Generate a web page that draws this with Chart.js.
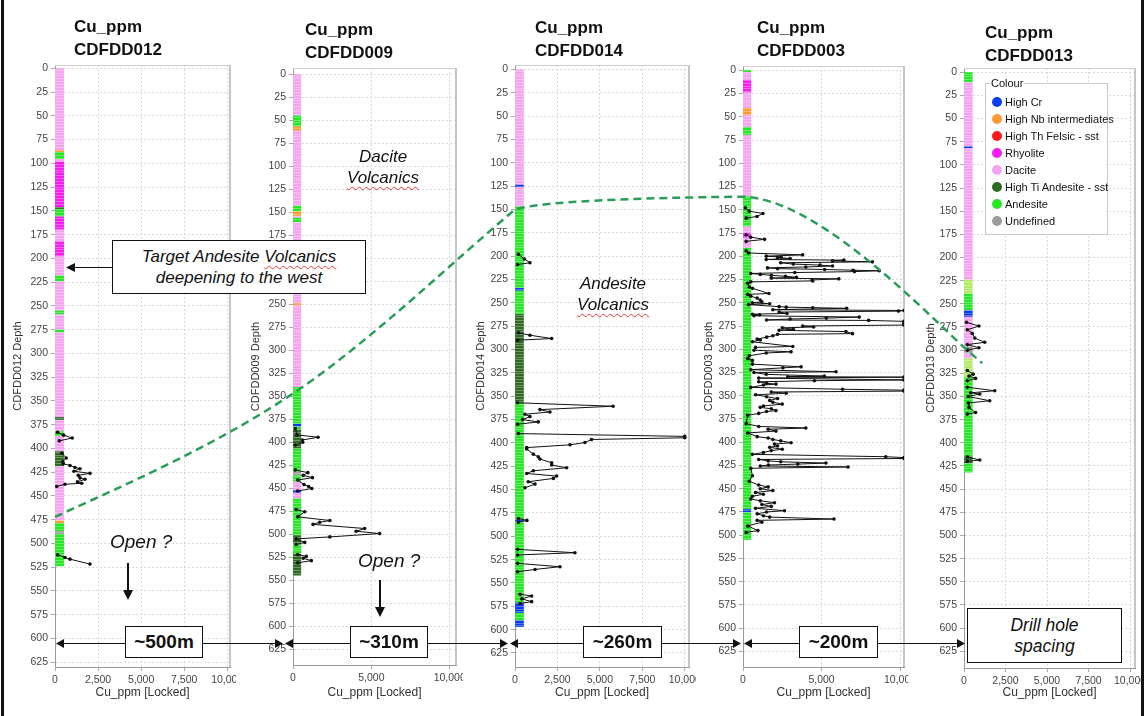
<!DOCTYPE html>
<html>
<head>
<meta charset="utf-8">
<script src="https://cdn.jsdelivr.net/npm/chart.js@4.4.1/dist/chart.umd.min.js"></script>
<style>
  body { margin: 0; background: #fff; }
  #page { position: relative; width: 1144px; height: 716px; overflow: hidden; background: #fff;
          font-family: 'Liberation Sans', Arial, sans-serif; color: #111; }
  #page canvas { position: absolute; top: 0; }
  #overlay { left: 0; z-index: 2; pointer-events: none; }
  .title { position: absolute; font-weight: bold; font-size: 17px; line-height: 23px; z-index: 3; }
  .note { position: absolute; font-style: italic; font-size: 17px; line-height: 21px; text-align: center; z-index: 3; }
  .squig { text-decoration: underline wavy #e03a3a; text-decoration-thickness: 1px; text-underline-offset: 3px; }
  .box { position: absolute; box-sizing: border-box; background: #fff; border: 1.5px solid #111; z-index: 3;
         display: flex; flex-direction: column; align-items: center; justify-content: center; }
  .dist { font-weight: bold; font-size: 19px; }
  .ital { font-style: italic; font-size: 17px; line-height: 21px; text-align: center; }
  .open { position: absolute; font-style: italic; font-size: 19px; z-index: 3; }
  #legend { position: absolute; left: 985px; top: 83px; width: 123px; height: 152px; box-sizing: border-box;
            border: 1px solid #c8c8c8; background: #fff; padding-top: 9px; z-index: 3; font-size: 11px; }
  #legend .cap { position: absolute; left: 4px; top: -7px; background: #fff; padding: 0 1px; line-height: 13px; }
  .lrow { height: 17.1px; display: flex; align-items: center; padding-left: 6px; white-space: nowrap; }
  .dot { width: 10px; height: 10px; border-radius: 50%; margin-right: 3px; flex: none; }
  .edge { position: absolute; top: 0; width: 3px; height: 716px; background: #111; z-index: 4; }
</style>
</head>
<body>
<div id="page">
  <div class="edge" style="left:1px"></div>
  <div class="edge" style="left:1141px"></div>
  <canvas id="overlay" width="1144" height="716"></canvas>

  <div class="note" style="left:323px; top:146px; width:120px;">Dacite<br><span class="squig">Volcanics</span></div>
  <div class="note" style="left:553px; top:273px; width:120px;">Andesite<br><span class="squig">Volcanics</span></div>

  <div class="box" style="left:112px; top:240px; width:254px; height:54px;">
    <div class="ital">Target Andesite <span class="squig">Volcanics</span><br>deepening to the west</div>
  </div>

  <div class="open" style="left:110px; top:531px;">Open ?</div>
  <div class="open" style="left:358px; top:550px;">Open ?</div>

  <div class="box dist" style="left:125px; top:626px; width:78px; height:32px;">~500m</div>
  <div class="box dist" style="left:350px; top:626px; width:78px; height:32px;">~310m</div>
  <div class="box dist" style="left:583px; top:626px; width:79px; height:32px;">~260m</div>
  <div class="box dist" style="left:799px; top:626px; width:79px; height:32px;">~200m</div>
  <div class="box" style="left:967px; top:608px; width:155px; height:55px;">
    <div class="ital" style="font-size:17.5px;">Drill hole<br>spacing</div>
  </div>

  <div id="legend"><span class="cap">Colour</span></div>
</div>

<script>
// ---- holes ----
const holeNames = ['CDFDD012', 'CDFDD009', 'CDFDD014', 'CDFDD003', 'CDFDD013'];
const cuTicksWide = [0, 2500, 5000, 7500, 10000];
const cuTicksNarrow = [0, 5000, 10000];
const cuTicks = [cuTicksWide, cuTicksNarrow, cuTicksWide, cuTicksNarrow, cuTicksWide];
const depthTicks = [0, 25, 50, 75, 100, 125, 150, 175, 200, 225, 250, 275, 300, 325, 350, 375, 400,
                    425, 450, 475, 500, 525, 550, 575, 600, 625];
const cuMax = [10160, 10400, 10250, 10250, 10300];
const depthMin = [-3.5, -6.7, -4.8, -4.6, -4.5];
const depthMax = [630, 642, 640, 641.7, 643];
const stripCu = 520;

// ---- lithology legend ----
const lithKeys = ['cr', 'nb', 'th', 'rhy', 'dac', 'hti', 'and', 'und'];
const lithNames = ['High Cr', 'High Nb intermediates', 'High Th Felsic - sst', 'Rhyolite', 'Dacite',
                   'High Ti Andesite - sst', 'Andesite', 'Undefined'];
const lithColors = ['#0a3cf0', '#ff9a30', '#ff1a1a', '#f41ef0', '#f4a4ee', '#2e6a22', '#26e626', '#9a9a9a'];
const paleAndesite = '#b4ea68';

// lithology intervals [from, to, key]
const lith012 = [[0,86,'dac'],[86,88,'nb'],[88,95.5,'and'],[95.5,98,'dac'],[98,146,'rhy'],[146,148,'hti'],
  [148,156,'and'],[156,170,'rhy'],[170,182,'dac'],[182,198,'rhy'],[198,218,'dac'],[218,224,'and'],[224,255,'dac'],
  [255,259,'and'],[259,275,'dac'],[275,278,'and'],[278,367,'dac'],[367,370,'hti'],[370,382,'dac'],[382,387,'and'],
  [387,403,'dac'],[403,418.5,'hti'],[418.5,476,'dac'],[476,478.5,'nb'],[478.5,487,'and'],[487,490,'und'],[490,524,'and']];
const lith009 = [[0,45,'dac'],[45,57,'and'],[57,61.5,'nb'],[61.5,143,'dac'],[143,149,'and'],[149,154,'nb'],
  [154,156,'dac'],[156,161,'and'],[161,249,'dac'],[249,251,'nb'],[251,340,'dac'],[340,380,'and'],[380,383,'cr'],
  [383,386,'and'],[386,407,'hti'],[407,432,'and'],[432,436,'und'],[436,443,'and'],[443,452,'dac'],[452,455,'cr'],
  [455,461,'dac'],[461,501,'and'],[501,510,'hti'],[510,521,'and'],[521,545,'hti']];
const lith014 = [[0,123.5,'dac'],[123.5,126,'cr'],[126,147,'dac'],[147,234,'and'],[234,237,'cr'],[237,262,'and'],
  [262,357,'hti'],[357,482,'and'],[482,484,'cr'],[484,571,'and'],[571,582,'cr'],[582,590,'and'],[590,597,'cr']];
const lith003 = [[0,2,'and'],[2,10.5,'dac'],[10.5,24,'rhy'],[24,40.5,'dac'],[40.5,48,'nb'],[48,61,'dac'],
  [61,69.5,'and'],[69.5,135.6,'dac'],[135.6,168,'and'],[168,175,'dac'],[175,180,'rhy'],[180,191,'dac'],
  [191,472,'and'],[472,475.5,'cr'],[475.5,505,'and']];
const lith013 = [[0,10.8,'and'],[10.8,80,'dac'],[80,82,'cr'],[82,224,'dac'],[224,239,'pale'],[239,257,'and'],
  [257,264,'cr'],[264,296,'dac'],[296,303,'und'],[303,309,'dac'],[309,329,'pale'],[329,415,'and'],[415,422,'hti'],
  [422,432,'and']];

// Cu_ppm samples [depth, cu]; null = gap in the trace
const cu012 = [[383,150],[386,500],[389,1000],[392,250],null,
  [405,400],[410,650],[414,450],[416,480],[418,870],[420,1160],[421.3,1450],[424,1100],[426.2,2030],[428.3,1350],
  [431,1450],[432.5,1740],[435,1300],[436.7,1550],[437.7,580],[440,100],null,
  [512,150],[514.8,580],[516.5,870],[521.7,2030]];
const cu009 = [[385,150],[392,250],[394.5,1600],[397.5,600],[400,620],[403,150],null,
  [430,150],[433,950],[436,650],[438.4,1240],[441,300],[446,700],[448,1000],[450.2,1200],[453,300],null,
  [473,200],[475.5,750],[481,300],[485,2350],[487,1700],[489.2,1280],[493.7,4570],[496.6,4030],[499.2,5530],
  [502.8,2350],[505,200],[508.8,750],[511,200],null,
  [522,300],[524,850],[526,650],[528.6,1170],[531,300]];
const cu014 = [[198,200],[203,550],[207,880],[209,150],null,
  [282,200],[284.6,880],[288.2,2160],[290,150],null,
  [357,150],[360.7,5780],[364.3,1470],[366.8,2060],[369.3,590],[371.8,880],[375,450],[377.5,1370],[380,150],null,
  [390,200],[393,10000],[394.5,10000],[396.3,4510],[399.6,4120],[402,3240],[405,690],[406.5,690],[412,1080],
  [414.9,1370],[417.3,1470],[421.2,2160],[423.7,2160],[426.6,3040],[429.8,1080],[432.7,690],[435.5,2450],
  [438,2260],[441.6,780],[444.1,1180],[448,590],null,
  [481,200],[483,700],[485,200],null,
  [514,150],[517.6,3530],[520,150],null,
  [529,150],[532.6,2650],[535.5,1180],[538,150],null,
  [562,300],[564,980],[567,400],[570,980],[572,300]];
const cu003 = [[148,150],[151.5,400],[154,1270],[157.2,890],[159,200],null,
  [177,200],[179.5,500],[181.8,1370],[184,200],null,
  [194,200],[196.5,350],[198.5,3800],[199.9,1480],[200.8,2430],[201.5,2200],[202.4,3000],[203.5,1480],
  [204.2,6420],[205,5700],[206,8240],[207,2400],[208.4,3200],[209.5,4900],[210.5,5700],[211.5,4000],[212.5,1560],
  [213.3,2200],[214.2,5200],[215,7000],[215.6,8670],[216.5,7100],[217.5,3300],[218.5,500],[219.5,1100],
  [220.5,1800],[221.5,2700],[222.7,3400],[223.5,1800],[224.3,6100],[225.5,4400],[226.5,4440],[227.5,500],
  [229,300],[233,400],[234.5,600],[240,1650],[241,300],[243,500],[245,900],[247,1100],[249,1200],[250,600],
  [251,1700],[252,350],[254.2,2300],[254.7,2750],[255.3,4440],[256,6600],[257.5,1900],[258.3,10250],
  [259,9900],[260,2300],[261.5,2800],[262.3,600],[263,1060],[264,700],[265.4,7400],[266.5,5300],[267.5,3000],
  [268.5,1500],[269,8000],[270,10250],[271,10250],[272,10250],[273,10250],[274,10250],[275,3800],[276,4500],
  [277,2500],[278.5,3200],[279.6,2300],[281,6550],[283.2,6970],[284,2200],[285.5,1900],[287,1500],[289,900],
  [290,1100],[292,600],[297,3170],[298,800],[301,700],[302.8,3060],[304,1480],[307,400],[310,300],[312,600],
  [316,600],[318.9,3700],[320,2540],[322,500],[324.2,5920],[325,700],[327,1480],[328.9,5180],[329.5,2850],
  [330,10250],[331,1000],[333,10250],[333.8,4545],[335,1000],[336.6,1500],[337.5,2100],[338.5,1300],[341,500],
  [343,6340],[344,10250],[345,10250],[346,1800],[347.3,2750],[349,800],[351,1500],[353,2200],[355,1700],
  [357,1900],[359,2500],[361,1300],[362.5,1100],[364,1800],[366,2100],[367,1500],[369,1000],[371,300],
  [380,200],[383,1000],[384.7,4000],[386,1600],[388,2100],[390,300],[394,900],[395.5,1600],[397,1900],
  [398.5,2400],[400.5,3060],[402,2000],[404,2200],[405.5,1700],[407.5,2500],[409,1800],[411,1300],[413,600],
  [415.6,9090],[416.5,10250],[417.5,10250],[418.5,1000],[420,1600],[421,2400],[422.4,5280],[423.5,3490],
  [424.5,1620],[425.5,1100],[426.6,6690],[428,500],[436,600],[442,400],[446,1000],[448,1600],[450,1100],
  [452,1900],[454,800],[456,1300],[458,600],[461,500],[463,1100],[465,2000],[467,1200],[469,1800],[471,800],
  [473.6,2640],[475,1500],[477,900],[479,1300],[480.5,1700],[482.6,5790],[484,900],[486,1200],[490,300],
  [495,950],[497,200]];
const cu013 = [[270,150],[274,900],[278,200],[282,500],[287,650],[291.5,1250],[294,200],[297.4,900],[300,200],null,
  [322,200],[325.9,550],[328,300],[330.5,700],[333,200],null,
  [340,200],[343.8,1850],[346,400],[347.4,950],[350,250],[354.6,1550],[357,250],[362,300],[367.3,700],[369,200],null,
  [415,200],[418.6,950],[420,200]];

// interpreted top of andesite at each hole (depth at the hole trace) and end of the dashed line in CDFDD013
const contactDepth = [472, 347, 150, 136, 297];
const contactEnd = [1100, 314];

const lithology = [lith012, lith009, lith014, lith003, lith013];
const cuSeries = [cu012, cu009, cu014, cu003, cu013];

// ---- page layout (plot boxes in page pixels) ----
const plots = [
  { l: 55, r: 230, t: 65, b: 667 },
  { l: 293, r: 456, t: 68, b: 665 },
  { l: 515, r: 689, t: 65, b: 667 },
  { l: 743, r: 905, t: 66, b: 667 },
  { l: 964, r: 1135, t: 68, b: 668 }
];
const canvasLeft = [5, 243, 468, 696, 918];
const canvasRight = [236, 463, 696, 908, 1141];
const titlePos = [[74, 15], [305, 18], [535, 16], [757, 16], [985, 21]];

const page = document.getElementById('page');

function colorOf(key) {
  if (key === 'pale') return paleAndesite;
  return lithColors[lithKeys.indexOf(key)];
}

function segmentsOf(series) {
  const out = [];
  let cur = [];
  series.forEach(p => {
    if (p === null) { if (cur.length) out.push(cur); cur = []; }
    else cur.push({ x: p[1], y: p[0] });
  });
  if (cur.length) out.push(cur);
  return out;
}

const framePlugin = {
  id: 'frame',
  beforeDatasetsDraw(chart) {
    const { ctx, chartArea: a } = chart;
    ctx.save();
    ctx.strokeStyle = '#cfcfcf';
    ctx.lineWidth = 1;
    ctx.beginPath();
    ctx.moveTo(a.left, a.top + 0.5);
    ctx.lineTo(a.right, a.top + 0.5);
    ctx.stroke();
    ctx.lineWidth = 2;
    ctx.strokeStyle = '#c6c6c6';
    ctx.beginPath();
    ctx.moveTo(a.right, a.top);
    ctx.lineTo(a.right, a.bottom);
    ctx.stroke();
    ctx.restore();
  }
};

const stripPlugin = {
  id: 'strip',
  beforeDatasetsDraw(chart, args, opts) {
    const { ctx, scales: { x, y } } = chart;
    const x0 = x.getPixelForValue(0), x1 = x.getPixelForValue(stripCu);
    ctx.save();
    opts.intervals.forEach(([from, to, key]) => {
      const y0 = y.getPixelForValue(from), y1 = y.getPixelForValue(to);
      ctx.fillStyle = colorOf(key);
      ctx.fillRect(x0, y0, x1 - x0, y1 - y0);
    });
    // sample boundaries inside the log
    const end = opts.intervals[opts.intervals.length - 1][1];
    ctx.strokeStyle = 'rgba(255,255,255,0.3)';
    ctx.lineWidth = 1;
    for (let d = 1.5; d < end; d += 3) {
      const yy = Math.round(y.getPixelForValue(d)) + 0.5;
      ctx.beginPath();
      ctx.moveTo(x0, yy);
      ctx.lineTo(x1, yy);
      ctx.stroke();
    }
    ctx.restore();
  }
};

const tickFont = { family: "'Liberation Sans', Arial, sans-serif", size: 10.5 };

function makePanel(i) {
  const box = plots[i];
  const left = canvasLeft[i], right = canvasRight[i];
  const cv = document.createElement('canvas');
  cv.width = right - left;
  cv.height = 716;
  cv.style.left = left + 'px';
  page.insertBefore(cv, document.getElementById('overlay'));

  const t = document.createElement('div');
  t.className = 'title';
  t.style.left = titlePos[i][0] + 'px';
  t.style.top = titlePos[i][1] + 'px';
  t.innerHTML = 'Cu_ppm<br>' + holeNames[i];
  page.appendChild(t);

  const datasets = segmentsOf(cuSeries[i]).map(seg => ({
    data: seg,
    showLine: true,
    borderColor: '#111',
    borderWidth: 1,
    pointRadius: 1.8,
    pointBorderWidth: 0,
    pointBackgroundColor: '#111',
    tension: 0
  }));

  return new Chart(cv, {
    type: 'scatter',
    data: { datasets },
    options: {
      responsive: false,
      animation: false,
      events: [],
      layout: { padding: { left: 0, top: box.t, right: right - box.r, bottom: 0 } },
      plugins: {
        legend: { display: false },
        tooltip: { enabled: false },
        strip: { intervals: lithology[i] }
      },
      scales: {
        x: {
          type: 'linear',
          position: 'bottom',
          min: 0,
          max: cuMax[i],
          afterBuildTicks(s) { s.ticks = cuTicks[i].map(v => ({ value: v })); },
          afterFit(s) { s.height = 716 - box.b; s.paddingLeft = 0; s.paddingRight = 0; },
          ticks: {
            autoSkip: false, maxRotation: 0,
            font: tickFont, color: '#444', padding: 3,
            callback: v => v.toLocaleString('en-US')
          },
          grid: { color: '#dadada', tickColor: '#aaa', tickLength: 4 },
          border: { color: '#9a9a9a', dash: [2, 2] },
          title: {
            display: true, text: 'Cu_ppm [Locked]', color: '#333',
            font: { family: "'Liberation Sans', Arial, sans-serif", size: 12 },
            padding: { top: 2, bottom: 16 }
          }
        },
        y: {
          type: 'linear',
          reverse: true,
          min: depthMin[i],
          max: depthMax[i],
          afterBuildTicks(s) { s.ticks = depthTicks.map(v => ({ value: v })); },
          afterFit(s) { s.width = box.l - left; s.paddingTop = 0; s.paddingBottom = 0; },
          ticks: { autoSkip: false, font: tickFont, color: '#444', padding: 3 },
          grid: { color: '#dadada', tickColor: '#aaa', tickLength: 4 },
          border: { color: '#9a9a9a', dash: [2, 2] },
          title: {
            display: true, text: holeNames[i] + ' Depth', color: '#333',
            font: { family: "'Liberation Sans', Arial, sans-serif", size: 11 },
            padding: { top: 6, bottom: 0 }
          }
        }
      }
    },
    plugins: [framePlugin, stripPlugin]
  });
}

const charts = holeNames.map((_, i) => makePanel(i));

// ---- legend ----
const leg = document.getElementById('legend');
lithNames.forEach((name, k) => {
  const row = document.createElement('div');
  row.className = 'lrow';
  row.innerHTML = '<span class="dot" style="background:' + lithColors[k] + '"></span>' + name;
  leg.appendChild(row);
});

// ---- overlay: interpreted contact and annotation arrows ----
const o = document.getElementById('overlay').getContext('2d');

function pagePt(i, cu, depth) {
  const c = charts[i];
  return { x: canvasLeft[i] + c.scales.x.getPixelForValue(cu), y: c.scales.y.getPixelForValue(depth) };
}

const P = contactDepth.map((d, i) => pagePt(i, 0, d));
const E = pagePt(4, contactEnd[0], contactEnd[1]);

o.save();
o.strokeStyle = '#2a9e58';
o.lineWidth = 2.5;
o.setLineDash([8, 5]);
o.beginPath();
o.moveTo(P[0].x, P[0].y);
const tan1 = { x: (P[2].x - P[0].x) / 6, y: (P[2].y - P[0].y) / 6 };
o.bezierCurveTo(P[0].x + 79, P[0].y - 36, P[1].x - tan1.x, P[1].y - tan1.y, P[1].x, P[1].y);
o.bezierCurveTo(P[1].x + tan1.x, P[1].y + tan1.y, P[2].x - 60, P[2].y + 50, P[2].x, P[2].y);
o.bezierCurveTo(P[2].x + 25, P[2].y - 8, P[3].x - 110, P[3].y + 1, P[3].x, P[3].y);
o.bezierCurveTo(P[3].x + 70, P[3].y + 2, P[4].x - 55, P[4].y - 52, P[4].x, P[4].y);
o.lineTo(E.x, E.y);
o.stroke();
o.restore();

function head(x, y, dir, len, half) {
  o.beginPath();
  if (dir === 'l') { o.moveTo(x, y); o.lineTo(x + len, y - half); o.lineTo(x + len, y + half); }
  if (dir === 'r') { o.moveTo(x, y); o.lineTo(x - len, y - half); o.lineTo(x - len, y + half); }
  if (dir === 'd') { o.moveTo(x, y); o.lineTo(x - half, y - len); o.lineTo(x + half, y - len); }
  o.closePath();
  o.fill();
}

o.fillStyle = '#111';
o.strokeStyle = '#111';

// hole spacing arrows
const spacingRow = 643;
const spacingTips = [[56, 283], [285, 508], [510, 741], [744, 965]];
o.lineWidth = 1;
spacingTips.forEach(([a, b]) => {
  o.beginPath();
  o.moveTo(a + 4, spacingRow + 0.5);
  o.lineTo(b - 4, spacingRow + 0.5);
  o.stroke();
  head(a, spacingRow + 0.5, 'l', 8, 4.5);
  head(b, spacingRow + 0.5, 'r', 8, 4.5);
});

// target arrow
o.beginPath();
o.moveTo(112, 267.5);
o.lineTo(72, 267.5);
o.stroke();
head(66, 267.5, 'l', 9, 4.5);

// "Open ?" arrows
o.lineWidth = 2;
[[128, 563, 600], [380, 580, 617]].forEach(([x, y0, y1]) => {
  o.beginPath();
  o.moveTo(x, y0);
  o.lineTo(x, y1 - 6);
  o.stroke();
  head(x, y1, 'd', 10, 5);
});
</script>
</body>
</html>
